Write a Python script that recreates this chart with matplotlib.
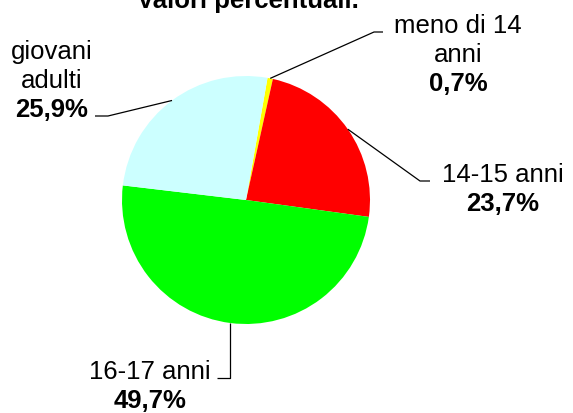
import numpy as np
import matplotlib
matplotlib.use("Agg")
import matplotlib.pyplot as plt

# Data.
title = "Valori percentuali."
categories = ["meno di 14\nanni", "14-15 anni", "16-17 anni", "giovani\nadulti"]
values = [0.7, 23.7, 49.7, 25.9]
value_labels = ["0,7%", "23,7%", "49,7%", "25,9%"]
colors = ["#ffff00", "#ff0000", "#00ff00", "#ccffff"]

W, H = 573, 414
plt.rcParams["font.family"] = ["Liberation Sans", "DejaVu Sans"]
fig = plt.figure(figsize=(W / 100, H / 100), dpi=100)
ax = fig.add_axes([0, 0, 1, 1])

# Pie in pixel coordinates (y measured from top, flipped below).
cx, cy, r = 246, 201, 124
wedges, _ = ax.pie(values, colors=colors, startangle=80, counterclock=False,
                   center=(cx, H - cy), radius=r,
                   wedgeprops=dict(linewidth=0))
ax.set_xlim(0, W)
ax.set_ylim(0, H)
ax.set_aspect("equal")
ax.axis("off")

# Label layout: elbow point, end of leader, text centre x, first baseline.
layout = [
    dict(elbow=(374, 33), end=(383, 33), tx=458, base=33),
    dict(elbow=(420, 182), end=(430, 182), tx=503, base=182),
    dict(elbow=None, end=(217, 379), tx=150, base=379),
    dict(elbow=(108, 117), end=(95, 117), tx=52, base=59),
]
line_h = 29
fs = 18.5

for w, cat, lab, lay in zip(wedges, categories, value_labels, layout):
    ang = np.deg2rad((w.theta1 + w.theta2) / 2)
    px = cx + r * np.cos(ang)
    py = cy - r * np.sin(ang)
    if lay["elbow"] is None:
        pts = [(px, py), (px, lay["end"][1]), lay["end"]]
    else:
        pts = [(px, py), lay["elbow"], lay["end"]]
    xs = [p[0] for p in pts]
    ys = [H - p[1] for p in pts]
    ax.plot(xs, ys, color="black", lw=0.9, solid_capstyle="butt")
    lines = cat.split("\n")
    for i, t in enumerate(lines):
        ax.text(lay["tx"], H - (lay["base"] + i * line_h), t, ha="center",
                va="baseline", fontsize=fs)
    ax.text(lay["tx"], H - (lay["base"] + len(lines) * line_h), lab,
            ha="center", va="baseline", fontsize=fs, fontweight="bold")

ax.text(248, H - 8, title, ha="center", va="baseline", fontsize=fs,
        fontweight="bold")

fig.savefig("out.png", dpi=100)
